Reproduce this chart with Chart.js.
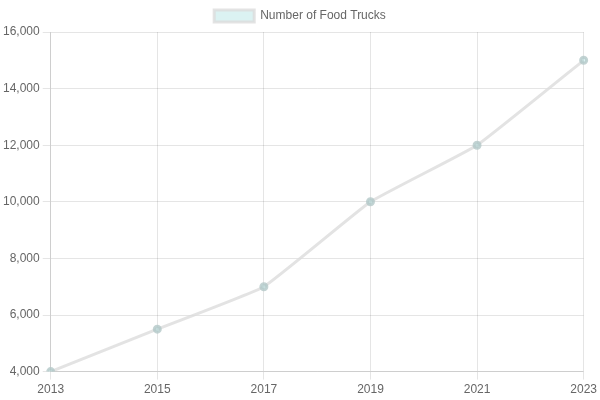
<!DOCTYPE html>
<html><head><script src="https://cdn.jsdelivr.net/npm/chart.js"></script>
<style>body{margin:0}#w{width:600px;height:400px}</style></head>
<body><div id="w"><canvas id="c"></canvas></div>
<script>
const years = ['2013','2015','2017','2019','2021','2023'];
const trucks = [4000, 5500, 7000, 10000, 12000, 15000];
new Chart(document.getElementById('c'), {
  type: 'line',
  data: { labels: years, datasets: [{
    label: 'Number of Food Trucks',
    data: trucks,
    borderColor: 'rgba(220,220,220,0.8)',
    backgroundColor: 'rgba(75,192,192,0.2)',
    pointBackgroundColor: 'rgba(75,192,192,0.2)',
    pointBorderColor: 'rgba(180,200,200,0.8)',
    borderWidth: 3,
    tension: 0.1,
    fill: false
  }]},
  options: {
    responsive: true, maintainAspectRatio: false, animation: false,
    scales: {
      x: { ticks: { color: '#666' } },
      y: { min: 4000, max: 16000, ticks: { stepSize: 2000, color: '#666' } }
    },
    plugins: { legend: { labels: { color: '#666' } } }
  }
});
</script></body></html>
